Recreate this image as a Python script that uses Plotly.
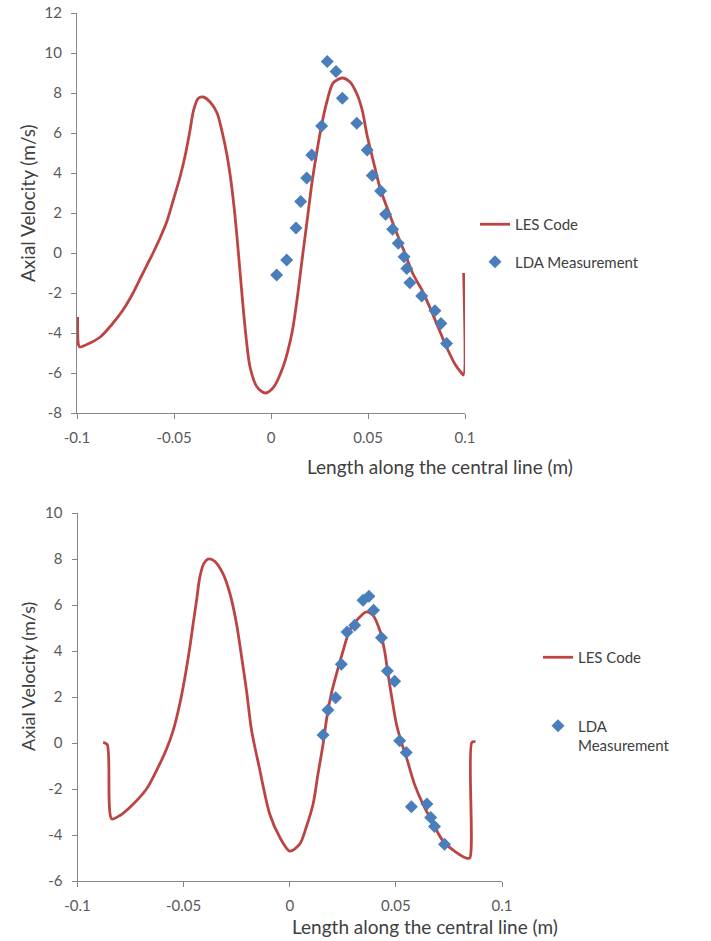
import plotly.graph_objects as go

W, H = 711, 941

# ---------------- data: top chart ----------------
les1_x = [-0.0997, -0.0992, -0.0985, -0.0933, -0.088, -0.0814, -0.0763, -0.0711, -0.066, -0.0608,
          -0.0572, -0.0536, -0.0505, -0.0469, -0.0443, -0.0418, -0.0400, -0.0376, -0.035, -0.0314,
          -0.0278, -0.0253, -0.0227, -0.0205, -0.0185, -0.0168, -0.0152, -0.0135, -0.0108, -0.0072,
          -0.0031, 0.001, 0.0062, 0.0108, 0.0134, 0.016, 0.0186, 0.0211, 0.0237, 0.0263,
          0.0289, 0.032, 0.0366, 0.0407, 0.0443, 0.047, 0.0495, 0.0526, 0.0562, 0.0603,
          0.065, 0.069, 0.0732, 0.0778, 0.082, 0.0861, 0.0907, 0.0948, 0.0982, 0.0992, 0.0993]
les1_y = [-3.2, -4.6, -4.7, -4.5, -4.2, -3.5, -2.85, -2.0, -1.0, 0.0,
          0.75, 1.6, 2.6, 3.8, 4.85, 6.1, 7.1, 7.72, 7.8, 7.55,
          7.0, 6.1, 4.9, 3.5, 1.8, 0.0, -1.8, -3.6, -5.7, -6.7,
          -7.0, -6.75, -5.7, -4.0, -2.35, -0.35, 1.6, 3.5, 5.1, 6.5,
          7.6, 8.5, 8.75, 8.55, 7.95, 7.15, 5.9, 4.65, 3.25, 2.15,
          0.95, 0.0, -1.05, -1.85, -2.75, -3.7, -4.75, -5.55, -6.0, -6.1, -1.0]

lda1_x = [0.0029, 0.0081, 0.0129, 0.0153, 0.0184, 0.021, 0.0261, 0.029, 0.0335, 0.0368,
          0.0442, 0.0496, 0.0522, 0.0565, 0.0591, 0.0627, 0.0656, 0.0686, 0.07, 0.0716,
          0.0777, 0.0845, 0.0876, 0.0905]
lda1_y = [-1.1, -0.35, 1.25, 2.57, 3.75, 4.9, 6.35, 9.57, 9.07, 7.74,
          6.49, 5.15, 3.87, 3.1, 1.94, 1.19, 0.49, -0.19, -0.77, -1.49,
          -2.15, -2.89, -3.52, -4.52]

# ---------------- data: bottom chart ----------------
les2_x = [-0.0879, -0.086, -0.0839, -0.08, -0.0737, -0.0675, -0.0628, -0.058, -0.0549, -0.0518,
          -0.0494, -0.0471, -0.0455, -0.0439, -0.0424, -0.0405, -0.0384, -0.0353, -0.0314, -0.0282,
          -0.0251, -0.0227, -0.0204, -0.018, -0.0145, -0.0094, -0.0047, 0.0, 0.0047, 0.0078,
          0.011, 0.0133, 0.0157, 0.0173, 0.0196, 0.022, 0.0251, 0.0282, 0.0322, 0.0361,
          0.0392, 0.0424, 0.0447, 0.0463, 0.0483, 0.0502, 0.0526, 0.0549, 0.0588, 0.0627,
          0.0675, 0.0721, 0.0776, 0.0831, 0.0848, 0.0858, 0.0875]
les2_y = [0.03, -0.07, -3.3, -3.15, -2.65, -2.0, -1.2, -0.25, 0.55, 1.7,
          2.85, 4.15, 5.2, 6.2, 7.2, 7.8, 8.0, 7.9, 7.35, 6.5,
          5.2, 3.75, 2.3, 0.55, -1.0, -3.1, -4.1, -4.7, -4.4, -3.65,
          -2.65, -1.35, -0.05, 1.0, 2.15, 3.0, 4.0, 4.9, 5.4, 5.7,
          5.55, 4.9, 4.0, 3.0, 1.85, 0.85, 0.03, -0.6, -1.8, -2.65,
          -3.5, -4.25, -4.7, -5.0, -5.0, 0.03, 0.06]

lda2_x = [0.0157, 0.018, 0.0216, 0.0243, 0.027, 0.0306, 0.0345, 0.0373, 0.0395, 0.0432,
          0.046, 0.0494, 0.0518, 0.0549, 0.0573, 0.0646, 0.0664, 0.0682, 0.0729]
lda2_y = [0.35, 1.44, 1.97, 3.42, 4.83, 5.12, 6.21, 6.38, 5.77, 4.58,
          3.13, 2.69, 0.1, -0.41, -2.77, -2.65, -3.24, -3.63, -4.4]

# ---------------- tick labels ----------------
x_ticks = [-0.1, -0.05, 0, 0.05, 0.1]
x_ticktext = ["-0.1", "-0.05", "0", "0.05", "0.1"]
y1_ticks = [-8, -6, -4, -2, 0, 2, 4, 6, 8, 10, 12]
y1_ticktext = ["-8", "-6", "-4", "-2", "0", "2", "4", "6", "8", "10", "12"]
y2_ticks = [-6, -4, -2, 0, 2, 4, 6, 8, 10]
y2_ticktext = ["-6", "-4", "-2", "0", "2", "4", "6", "8", "10"]

x_title = "Length along the central line (m)"
y_title = "Axial Velocity (m/s)"
name_les = "LES Code"
name_lda = "LDA Measurement"
name_lda2 = "LDA<br>Measurement"

RED = "#bb4542"
BLUE = "#4a7ebb"
AXIS = "#868686"
FONT = "Lato, 'Open Sans', sans-serif"
TICKF = dict(family=FONT, size=15, color="#595959")


def px(x):
    return x / W


def py(y):
    return 1 - y / H


fig = go.Figure()

fig.add_trace(go.Scatter(x=les1_x, y=les1_y, mode="lines", name=name_les,
                         line=dict(color=RED, width=2.8, shape="spline", smoothing=0.8),
                         xaxis="x", yaxis="y", legend="legend", legendgroup="a"))
fig.add_trace(go.Scatter(x=lda1_x, y=lda1_y, mode="markers", name=name_lda,
                         marker=dict(symbol="diamond", size=10, color=BLUE),
                         xaxis="x", yaxis="y", legend="legend", legendgroup="b"))
fig.add_trace(go.Scatter(x=les2_x, y=les2_y, mode="lines", name=name_les,
                         line=dict(color=RED, width=2.8, shape="spline", smoothing=0.8),
                         xaxis="x2", yaxis="y2", legend="legend2", legendgroup="c"))
fig.add_trace(go.Scatter(x=lda2_x, y=lda2_y, mode="markers", name=name_lda2,
                         marker=dict(symbol="diamond", size=10, color=BLUE),
                         xaxis="x2", yaxis="y2", legend="legend2", legendgroup="d"))

axis_common = dict(showgrid=False, zeroline=False, showline=True, linecolor=AXIS, linewidth=1,
                   ticks="outside", ticklen=5, tickcolor=AXIS, tickfont=TICKF, automargin=False)
xax = dict(axis_common, ticklabelstandoff=6)
yax = dict(axis_common, ticklabelstandoff=6)

fig.update_layout(
    width=W, height=H,
    margin=dict(l=0, r=0, t=0, b=0, autoexpand=False),
    paper_bgcolor="white", plot_bgcolor="white",
    xaxis=dict(domain=[px(77), px(465)], range=[-0.1, 0.1], tickvals=x_ticks, ticktext=x_ticktext,
               anchor="y", **xax),
    yaxis=dict(domain=[py(413), py(13)], range=[-8, 12], tickvals=y1_ticks, ticktext=y1_ticktext,
               anchor="x", **yax),
    xaxis2=dict(domain=[px(77.5), px(502)], range=[-0.1, 0.1], tickvals=x_ticks, ticktext=x_ticktext,
                anchor="y2", **xax),
    yaxis2=dict(domain=[py(881), py(513)], range=[-6, 10], tickvals=y2_ticks, ticktext=y2_ticktext,
                anchor="x2", **yax),
    legend=dict(x=px(475), y=py(208), xanchor="left", yanchor="top", traceorder="grouped",
                tracegroupgap=15, bgcolor="rgba(0,0,0,0)",
                font=dict(family=FONT, size=15, color="#404040")),
    legend2=dict(x=px(538), y=py(641), xanchor="left", yanchor="top", traceorder="grouped",
                 tracegroupgap=46, valign="top", bgcolor="rgba(0,0,0,0)",
                 font=dict(family=FONT, size=15, color="#404040")),
    showlegend=True,
)

ann_font = dict(family=FONT, size=19, color="#404040")
fig.add_annotation(text=x_title, x=px(305), y=py(467), xref="paper", yref="paper",
                   xanchor="left", yanchor="middle", showarrow=False, font=ann_font)
fig.add_annotation(text=x_title, x=px(290), y=py(926), xref="paper", yref="paper",
                   xanchor="left", yanchor="middle", showarrow=False, font=ann_font)
fig.add_annotation(text=y_title, x=px(28), y=py(203), xref="paper", yref="paper",
                   xanchor="center", yanchor="middle", textangle=-90, showarrow=False, font=ann_font)
fig.add_annotation(text=y_title, x=px(28), y=py(677), xref="paper", yref="paper",
                   xanchor="center", yanchor="middle", textangle=-90, showarrow=False,
                   font=dict(ann_font, size=18))

fig.write_html("out.html", config={"displayModeBar": False},
               post_script="document.body.style.margin='0';")
